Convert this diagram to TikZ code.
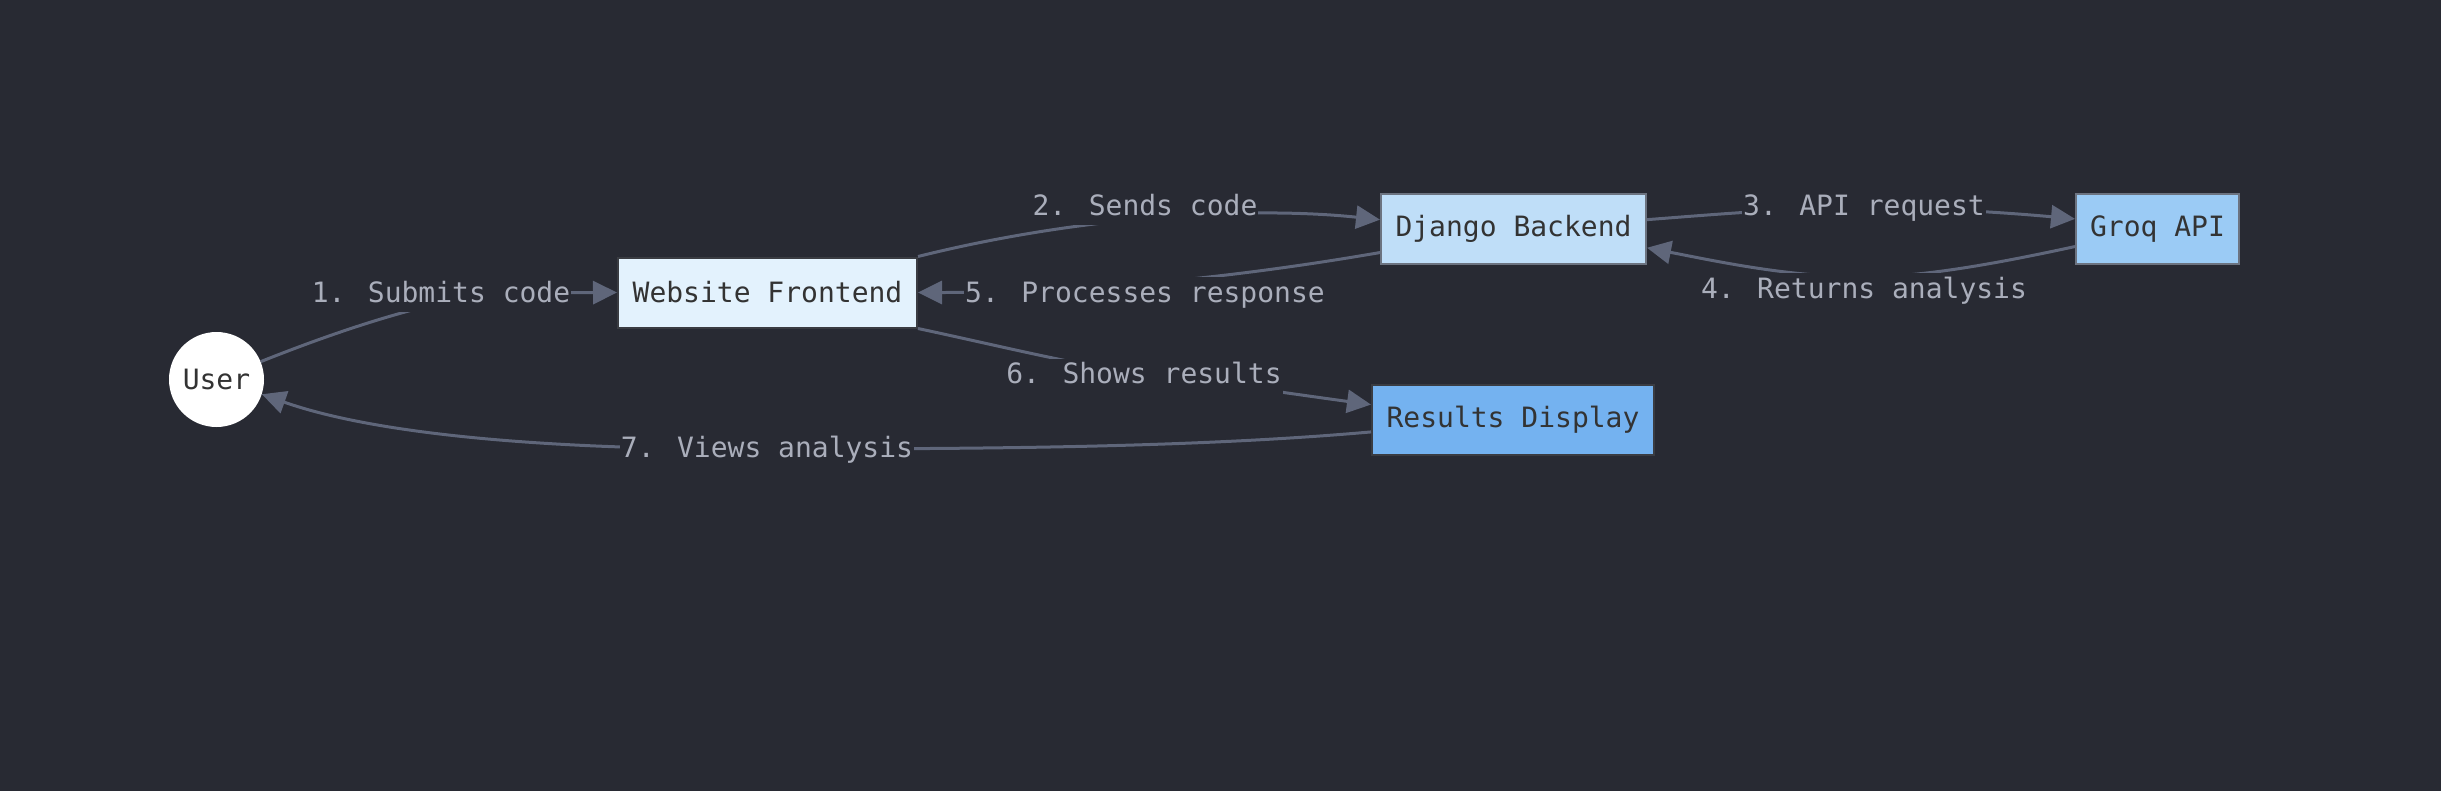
\documentclass[tikz,border=0pt]{standalone}
\usepackage{fontspec}
\newfontfamily\dmono{DejaVu Sans Mono}
\usetikzlibrary{arrows.meta}
\definecolor{bgc}{HTML}{282A33}
\definecolor{edgec}{HTML}{5F667A}
\definecolor{labc}{HTML}{AAAEBB}
\definecolor{txtc}{HTML}{333333}
\definecolor{fefill}{HTML}{E3F2FD}
\definecolor{djfill}{HTML}{BFDEF8}
\definecolor{gqfill}{HTML}{9BCBF5}
\definecolor{rdfill}{HTML}{74B2F0}
\definecolor{bdark}{HTML}{3A3C42}
\definecolor{bgray}{HTML}{6C7380}
\begin{document}
\begin{tikzpicture}[x=1pt,y=-1pt,
  box/.style={draw, line width=2pt, minimum height=70pt, inner sep=0pt,
    font=\dmono\fontsize{28}{34}\selectfont, text=txtc},
  lab/.style={fill=bgc, inner xsep=1pt, inner ysep=4pt, text height=21pt, text depth=6pt,
    font=\dmono\fontsize{28}{34}\selectfont, text=labc},
  flow/.style={draw=edgec, line width=3pt, -{Triangle[length=24pt,width=23pt]}}]
\useasboundingbox (0,0) rectangle (2441,790);
\fill[bgc] (-20,-20) rectangle (2461,810);

\node[circle, fill=white, minimum size=95pt, inner sep=0pt,
  font=\dmono\fontsize{28}{34}\selectfont, text=txtc] (user) at (216.5,379.5) {User};
\node[box, fill=fefill, draw=bdark, minimum width=299pt] (fe) at (767.5,292.5) {Website Frontend};
\node[box, fill=djfill, draw=bgray, minimum width=265pt] (dj) at (1513.5,229) {Django Backend};
\node[box, fill=gqfill, draw=bgray, minimum width=163pt] (gq) at (2157.5,229) {Groq API};
\node[box, fill=rdfill, draw=bdark, minimum width=282pt] (rd) at (1513,419.5) {Results Display};

\coordinate (c1) at (500,293);
\coordinate (c3) at (1864,208);
\coordinate (c4) at (1864,277);
\coordinate (c6) at (1144,374);
\coordinate (c7) at (767,449);

\draw[flow] (user.22) .. controls (340,330) and (430,300) .. (c1) -- (fe.west);
\draw[flow] (fe.north east) .. controls (1080,216) and (1250,206) .. (dj.176);
\draw[flow] (dj.4) .. controls (1720,214) and (1790,208) .. (c3)
  .. controls (1940,208) and (2010,213) .. (gq.173);
\draw[flow] (gq.192) .. controls (1990,265) and (1920,277) .. (c4)
  .. controls (1790,277) and (1720,262) .. (dj.352);
\draw[flow] (dj.190) .. controls (1250,275) and (1100,292.5) .. (fe.east);
\draw[flow] (fe.south east) .. controls (1000,346) and (1080,366) .. (c6)
  .. controls (1220,383) and (1300,395) .. (rd.174);
\draw[flow] (rd.185) .. controls (1200,447) and (1000,449) .. (c7)
  .. controls (560,450) and (380,436) .. (user.-18);

\node[lab] (l1) at (441,294.5) {1. Submits code};
\node[lab] (l2) at (1145,207.5) {2. Sends code};
\node[lab] (l3) at (1864,207.5) {3. API request};
\node[lab] (l4) at (1864,290.5) {4. Returns analysis};
\node[lab] (l5) at (1145,294.5) {5. Processes response};
\node[lab] (l6) at (1144,376) {6. Shows results};
\node[lab] (l7) at (767,450) {7. Views analysis};
\end{tikzpicture}
\end{document}
